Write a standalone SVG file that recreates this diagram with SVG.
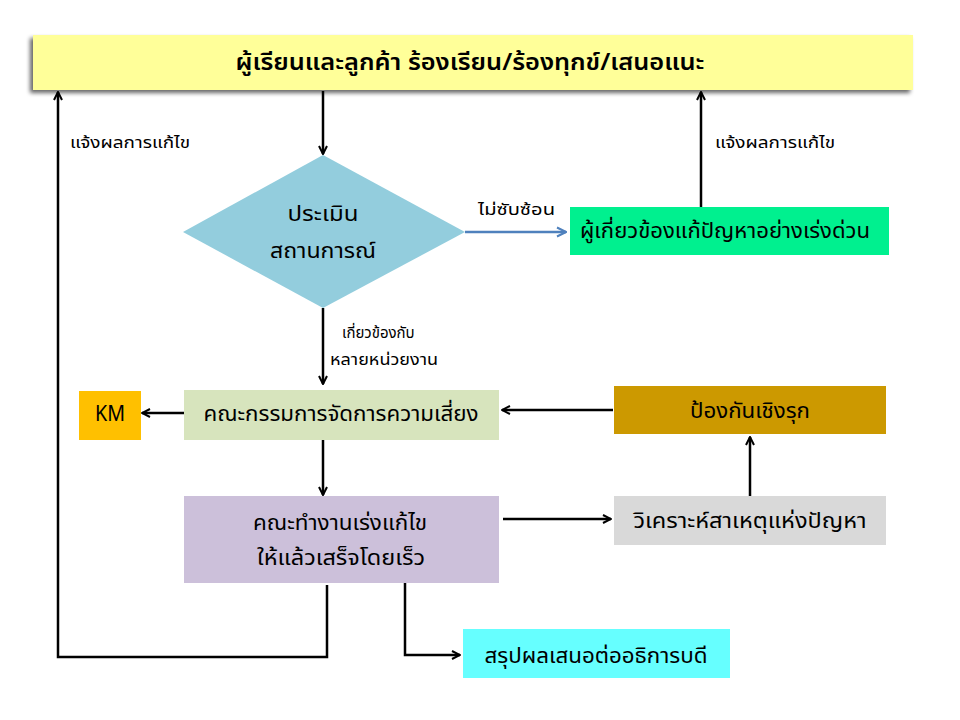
<svg xmlns="http://www.w3.org/2000/svg" width="960" height="720" viewBox="0 0 960 720">
<style>
text{font-family:"Noto Sans Thai","Tahoma","Leelawadee UI","DejaVu Sans","Noto Sans",sans-serif;fill:#000}
.t{font-size:21px}
.s{font-size:16px}
.c{text-anchor:middle}
.ln{fill:none;stroke:#000;stroke-width:2.5}
</style>
<defs>
<marker id="ah" viewBox="0 0 10 10" refX="9" refY="5" markerWidth="4" markerHeight="4" orient="auto" markerUnits="strokeWidth">
<path d="M1,1 L9,5 L1,9" fill="none" stroke="#000" stroke-width="2"/>
</marker>
<marker id="ahb" viewBox="0 0 10 10" refX="9" refY="5" markerWidth="4.5" markerHeight="4.5" orient="auto" markerUnits="strokeWidth">
<path d="M1,1 L9,5 L1,9" fill="none" stroke="#4F81BD" stroke-width="1.8"/>
</marker>
<filter id="sh" x="-5%" y="-20%" width="110%" height="150%">
<feGaussianBlur in="SourceAlpha" stdDeviation="2"/>
<feOffset dx="-3" dy="3" result="b"/>
<feComponentTransfer><feFuncA type="linear" slope="0.6"/></feComponentTransfer>
<feMerge><feMergeNode/><feMergeNode in="SourceGraphic"/></feMerge>
</filter>
</defs>
<rect width="960" height="720" fill="#fff"/>

<g id="connectors">
<line class="ln" x1="323" y1="91" x2="323" y2="154" marker-end="url(#ah)"/>
<line x1="465" y1="232" x2="566" y2="232" fill="none" stroke="#4F81BD" stroke-width="2.5" marker-end="url(#ahb)"/>
<line class="ln" x1="701" y1="207" x2="701" y2="92" marker-end="url(#ah)"/>
<polyline class="ln" points="327,585 327,657 58,657 58,92" marker-end="url(#ah)"/>
<line class="ln" x1="323" y1="308" x2="323" y2="384" marker-end="url(#ah)"/>
<line class="ln" x1="184" y1="413" x2="142" y2="413" marker-end="url(#ah)"/>
<line class="ln" x1="613" y1="410" x2="502" y2="410" marker-end="url(#ah)"/>
<line class="ln" x1="323" y1="440" x2="323" y2="495" marker-end="url(#ah)"/>
<line class="ln" x1="503" y1="519" x2="611" y2="519" marker-end="url(#ah)"/>
<line class="ln" x1="750" y1="496" x2="750" y2="437" marker-end="url(#ah)"/>
<polyline class="ln" points="405,583 405,655 460,655" marker-end="url(#ah)"/>
<text class="s" x="478" y="215" textLength="77" lengthAdjust="spacingAndGlyphs">ไม่ซับซ้อน</text>
<text class="s" x="70" y="148" textLength="120" lengthAdjust="spacingAndGlyphs">แจ้งผลการแก้ไข</text>
<text class="s" x="715" y="148" textLength="120" lengthAdjust="spacingAndGlyphs">แจ้งผลการแก้ไข</text>
<text x="342" y="338" style="font-size:15px">เกี่ยวข้องกับ</text>
<text class="s" x="330" y="365" textLength="108" lengthAdjust="spacingAndGlyphs">หลายหน่วยงาน</text>
</g>

<g id="banner">
<rect x="33" y="35" width="880" height="55" fill="#FFFF99" filter="url(#sh)"/>
<text class="c" x="470" y="70" style="font-size:23px;font-weight:600" textLength="469" lengthAdjust="spacingAndGlyphs">ผู้เรียนและลูกค้า ร้องเรียน/ร้องทุกข์/เสนอแนะ</text>
</g>

<g id="assess">
<polygon points="323,155 465,232 323,308 183,232" fill="#93CDDD"/>
<text class="t c" x="323" y="221" textLength="71" lengthAdjust="spacingAndGlyphs">ประเมิน</text>
<text class="t c" x="323" y="258" textLength="106" lengthAdjust="spacingAndGlyphs">สถานการณ์</text>
</g>

<g id="urgent">
<rect x="570" y="207" width="319" height="48" fill="#00F08F"/>
<text class="t" x="580" y="238" textLength="290" lengthAdjust="spacingAndGlyphs">ผู้เกี่ยวข้องแก้ปัญหาอย่างเร่งด่วน</text>
</g>

<g id="km">
<rect x="79" y="391" width="62" height="49" fill="#FFC000"/>
<text class="t c" x="110" y="421" textLength="30" lengthAdjust="spacingAndGlyphs">KM</text>
</g>

<g id="risk">
<rect x="184" y="390" width="315" height="50" fill="#D7E4BD"/>
<text class="t c" x="341" y="421" textLength="275" lengthAdjust="spacingAndGlyphs">คณะกรรมการจัดการความเสี่ยง</text>
</g>

<g id="proactive">
<rect x="614" y="386" width="272" height="48" fill="#CC9900"/>
<text class="t c" x="750" y="418" textLength="120" lengthAdjust="spacingAndGlyphs">ป้องกันเชิงรุก</text>
</g>

<g id="team">
<rect x="184" y="496" width="315" height="87" fill="#CCC0DA"/>
<text class="t c" x="340" y="530" textLength="174" lengthAdjust="spacingAndGlyphs">คณะทำงานเร่งแก้ไข</text>
<text class="t c" x="341" y="565" textLength="168" lengthAdjust="spacingAndGlyphs">ให้แล้วเสร็จโดยเร็ว</text>
</g>

<g id="analyze">
<rect x="614" y="496" width="272" height="49" fill="#D9D9D9"/>
<text class="t c" x="750" y="528" textLength="233" lengthAdjust="spacingAndGlyphs">วิเคราะห์สาเหตุแห่งปัญหา</text>
</g>

<g id="summary">
<rect x="463" y="629" width="267" height="49" fill="#66FFFF"/>
<text class="t c" x="596" y="663" textLength="223" lengthAdjust="spacingAndGlyphs">สรุปผลเสนอต่ออธิการบดี</text>
</g>
</svg>
